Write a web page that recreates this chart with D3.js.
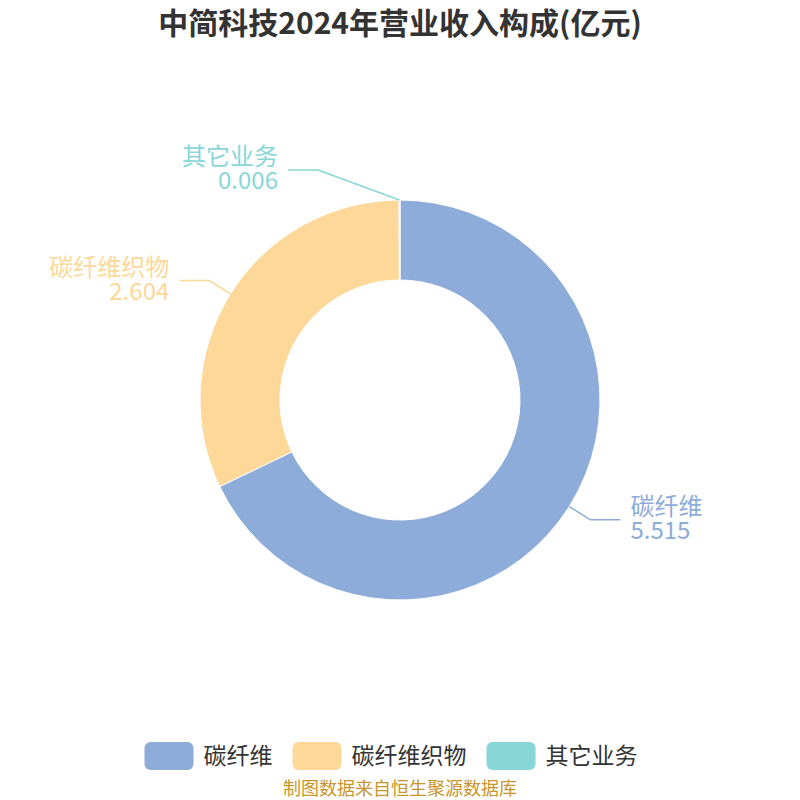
<!DOCTYPE html>
<html>
<head>
<meta charset="utf-8">
<script src="https://cdn.jsdelivr.net/npm/d3@7"></script>
<style>
  body { margin: 0; background: #fff; }
  text { font-family: "Noto Sans CJK SC", "Noto Sans", sans-serif; }
</style>
</head>
<body>
<svg id="chart" width="800" height="800"></svg>
<script>
// data
const categories = ["碳纤维", "碳纤维织物", "其它业务"];
const values = [5.515, 2.604, 0.006];
const colors = ["#8eacda", "#fdd899", "#88d6d8"];
const title = "中简科技2024年营业收入构成(亿元)";
const source = "制图数据来自恒生聚源数据库";

const width = 800, height = 800;
const cx = 400, cy = 400;
const outerR = 200, innerR = 120;

const svg = d3.select("#chart");

svg.append("text")
  .attr("x", width / 2).attr("y", 34)
  .attr("text-anchor", "middle")
  .attr("font-size", 30).attr("font-weight", "bold")
  .attr("fill", "#333")
  .text(title);

const pie = d3.pie().sort(null).value(d => d)(values);
const arc = d3.arc().innerRadius(innerR).outerRadius(outerR);

const g = svg.append("g").attr("transform", `translate(${cx},${cy})`);

g.selectAll("path.slice")
  .data(pie)
  .join("path")
    .attr("class", "slice")
    .attr("d", arc)
    .attr("fill", (d, i) => colors[i])
    .attr("stroke", "#fff")
    .attr("stroke-width", 1);

// label lines + labels
pie.forEach((d, i) => {
  let mid = (d.startAngle + d.endAngle) / 2;
  let p0 = d3.pointRadial(mid, outerR);
  let p1 = d3.pointRadial(mid, outerR + 25);
  let side = p0[0] >= 0 ? 1 : -1;
  // keep labels near the top clear of the ring
  if (Math.abs(p1[0]) < 80) {
    p1 = [side * 82, -(outerR + 30)];
  }
  let p2 = [p1[0] + side * 30, p1[1]];

  g.append("path")
    .attr("d", d3.line()([p0, p1, p2]))
    .attr("fill", "none")
    .attr("stroke", colors[i])
    .attr("stroke-width", 1.5);

  let tx = p2[0] + side * 10;
  g.append("text")
    .attr("x", tx).attr("y", p2[1] - 5)
    .attr("text-anchor", side > 0 ? "start" : "end")
    .attr("font-size", 24)
    .attr("fill", colors[i])
    .text(categories[i]);
  g.append("text")
    .attr("x", tx).attr("y", p2[1] + 19)
    .attr("text-anchor", side > 0 ? "start" : "end")
    .attr("font-size", 24)
    .attr("fill", colors[i])
    .text(values[i].toFixed(3));
});

// legend
const legend = svg.append("g");
let lx = 0;
categories.forEach((c, i) => {
  const item = legend.append("g").attr("transform", `translate(${lx},0)`);
  item.append("rect")
    .attr("x", 0).attr("y", 742)
    .attr("width", 49).attr("height", 28)
    .attr("rx", 6)
    .attr("fill", colors[i]);
  const tx = item.append("text")
    .attr("x", 59).attr("y", 764)
    .attr("font-size", 23)
    .attr("fill", "#333")
    .text(c);
  lx += 59 + tx.node().getComputedTextLength() + 20;
});
legend.attr("transform", `translate(${391 - (lx - 20) / 2},0)`);

svg.append("text")
  .attr("x", width / 2).attr("y", 795)
  .attr("text-anchor", "middle")
  .attr("font-size", 18)
  .attr("fill", "#c8952c")
  .text(source);
</script>
</body>
</html>
